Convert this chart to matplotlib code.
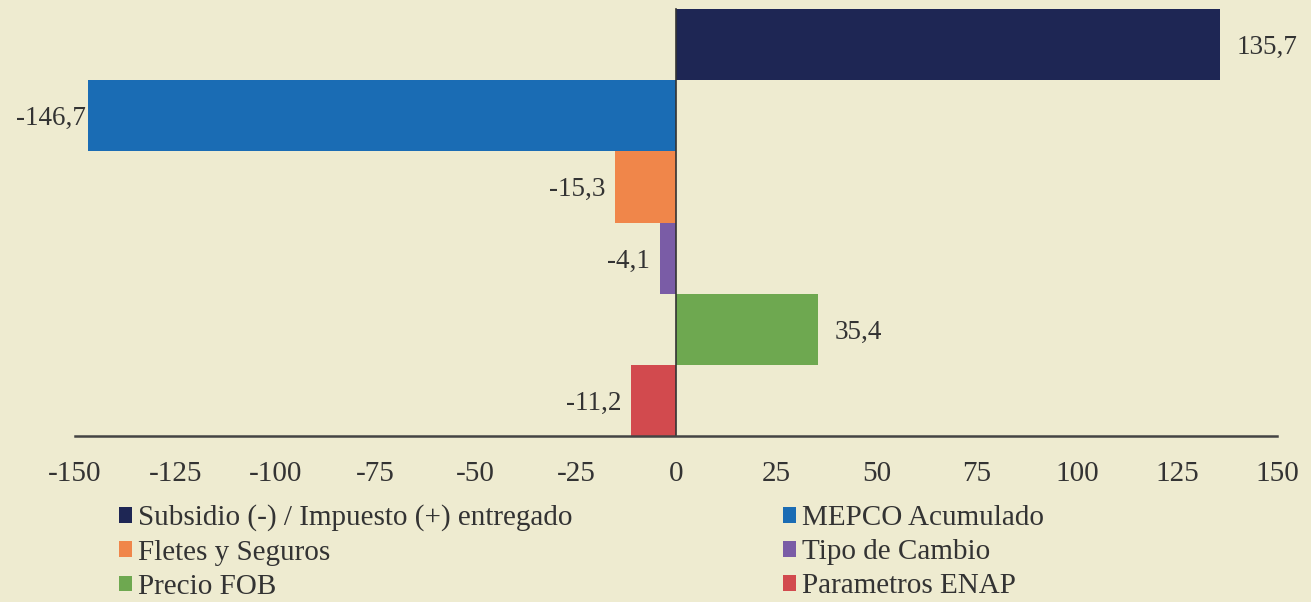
import matplotlib
matplotlib.use("Agg")
import matplotlib.pyplot as plt
from matplotlib.patches import Patch

categories = ["Subsidio (-) / Impuesto (+) entregado", "MEPCO Acumulado",
              "Fletes y Seguros", "Tipo de Cambio", "Precio FOB", "Parametros ENAP"]
values = [135.7, -146.7, -15.3, -4.1, 35.4, -11.2]
labels = ["135,7", "-146,7", "-15,3", "-4,1", "35,4", "-11,2"]
colors = ["#1e2654", "#1a6cb4", "#f0864a", "#7a5ca6", "#6ea850", "#d24a4e"]
xticks = [-150, -125, -100, -75, -50, -25, 0, 25, 50, 75, 100, 125, 150]

bg = "#eeebd0"
plt.rcParams['font.family'] = ['Liberation Serif', 'DejaVu Serif']

fig = plt.figure(figsize=(13.11, 6.02), dpi=100, facecolor=bg)
ax = fig.add_axes([0.0572, 0.2757, 0.917, 0.709], facecolor=bg)

n = len(values)
ypos = list(range(n))
ax.barh(ypos, values, height=1.0, color=colors)
ax.set_ylim(n - 0.5, -0.5)
ax.set_xlim(-150, 150)

for y, v, lab in zip(ypos, values, labels):
    if v >= 0:
        ax.annotate(lab, (v, y), xytext=(12, -2), textcoords="offset points",
                    ha="left", va="center", fontsize=19.5, color="#333333")
    else:
        ax.annotate(lab, (v, y), xytext=(-2 if v < -100 else -7, -2), textcoords="offset points",
                    ha="right", va="center", fontsize=19.5, color="#333333")

ax.set_xticks(xticks)
ax.set_xticklabels([str(t) for t in xticks], fontsize=21, color="#333333")
ax.set_yticks([])
ax.tick_params(axis="x", length=0, pad=18)
for s in ["top", "right"]:
    ax.spines[s].set_visible(False)
ax.spines["left"].set_position(("data", 0))
ax.spines["left"].set_color("#333333")
ax.spines["left"].set_linewidth(1.2)
ax.spines["bottom"].set_color("#444444")
ax.spines["bottom"].set_linewidth(1.8)

handles = [Patch(facecolor=c, label=l) for c, l in zip(colors, categories)]
order = [0, 2, 4, 1, 3, 5]
leg = fig.legend([handles[i] for i in order], [categories[i] for i in order],
                 ncol=2, loc="upper left", bbox_to_anchor=(0.091, 0.162),
                 frameon=False, fontsize=21, handlelength=0.45, handleheight=0.45,
                 handletextpad=0.2, labelspacing=0.28, columnspacing=7.2,
                 borderpad=0, borderaxespad=0, labelcolor="#333333")

fig.savefig("out.png", dpi=100, facecolor=bg)
